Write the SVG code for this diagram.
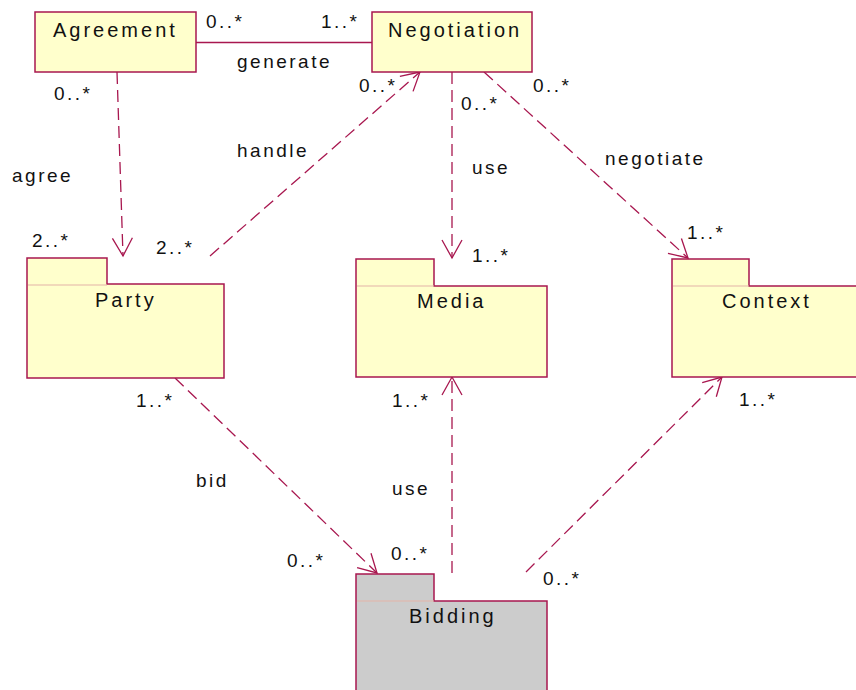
<svg xmlns="http://www.w3.org/2000/svg" width="856" height="690" viewBox="0 0 856 690">
  <style>
    .box { fill: #ffffcc; stroke: #a8174f; stroke-width: 1.5; }
    .grey { fill: #cccccc; }
    .sep { stroke: #e4b4a8; stroke-width: 1.2; fill: none; }
    .name { font-family: "Liberation Sans", Arial, sans-serif; font-size: 20px; letter-spacing: 3px; fill: #111; }
    .lbl { font-family: "Liberation Sans", Arial, sans-serif; font-size: 19px; letter-spacing: 2.5px; fill: #111; }
    .conn { stroke: #a8174f; stroke-width: 1.3; fill: none; }
    .dash { stroke-dasharray: 12 6; }
  </style>
  <defs>
    <marker id="open" markerUnits="userSpaceOnUse" viewBox="-20 -12 22 24" refX="0" refY="0" markerWidth="22" markerHeight="24" orient="auto">
      <path d="M -18 -10 L 0 0 L -18 10" fill="none" stroke="#a8174f" stroke-width="1.3" stroke-dasharray="none"/>
    </marker>
  </defs>

  <rect width="856" height="690" fill="#ffffff"/>

  <!-- connectors -->
  <g id="connectors">
    <line class="conn" x1="196" y1="42.5" x2="372" y2="42.5"/>
    <line class="conn dash" x1="117" y1="72" x2="123" y2="256" marker-end="url(#open)"/>
    <line class="conn dash" x1="210" y1="256" x2="420" y2="72" marker-end="url(#open)"/>
    <line class="conn dash" x1="452" y1="72" x2="452" y2="258" marker-end="url(#open)"/>
    <line class="conn dash" x1="484" y1="72" x2="688" y2="258" marker-end="url(#open)"/>
    <line class="conn dash" x1="175" y1="378" x2="377" y2="573" marker-end="url(#open)"/>
    <line class="conn dash" x1="452" y1="573" x2="452" y2="377" marker-end="url(#open)"/>
    <line class="conn dash" x1="526" y1="572" x2="722" y2="377" marker-end="url(#open)"/>
  </g>

  <!-- classes -->
  <g id="agreement">
    <rect class="box" x="35" y="12" width="161" height="60"/>
    <text class="name" x="53" y="37">Agreement</text>
  </g>
  <g id="negotiation">
    <rect class="box" x="372" y="12" width="160" height="60"/>
    <text class="name" x="388" y="37">Negotiation</text>
  </g>

  <!-- packages -->
  <g id="party">
    <path class="box" d="M27 258 H107 V284 H224 V378 H27 Z"/>
    <line class="sep" x1="28" y1="285" x2="107" y2="285"/>
    <text class="name" x="95" y="307">Party</text>
  </g>
  <g id="media">
    <path class="box" d="M356 259 H434 V286 H547 V377 H356 Z"/>
    <line class="sep" x1="357" y1="286" x2="434" y2="286"/>
    <text class="name" x="417" y="308">Media</text>
  </g>
  <g id="context">
    <path class="box" d="M672 259 H749 V286 H864 V377 H672 Z"/>
    <line class="sep" x1="673" y1="286" x2="749" y2="286"/>
    <text class="name" x="722" y="308">Context</text>
  </g>
  <g id="bidding">
    <path class="box grey" d="M356 574 H434 V601 H547 V700 H356 Z"/>
    <line class="sep" x1="357" y1="601" x2="434" y2="601"/>
    <text class="name" x="409" y="623">Bidding</text>
  </g>

  <!-- association names and multiplicities -->
  <g id="labels">
    <text class="lbl" x="206" y="28">0..*</text>
    <text class="lbl" x="321" y="28">1..*</text>
    <text class="lbl" x="237" y="68">generate</text>
    <text class="lbl" x="54" y="100">0..*</text>
    <text class="lbl" x="359" y="92">0..*</text>
    <text class="lbl" x="461" y="110">0..*</text>
    <text class="lbl" x="533" y="92">0..*</text>
    <text class="lbl" x="12" y="182">agree</text>
    <text class="lbl" x="237" y="157">handle</text>
    <text class="lbl" x="472" y="174">use</text>
    <text class="lbl" x="605" y="165">negotiate</text>
    <text class="lbl" x="32" y="247">2..*</text>
    <text class="lbl" x="156" y="254">2..*</text>
    <text class="lbl" x="472" y="262">1..*</text>
    <text class="lbl" x="687" y="239">1..*</text>
    <text class="lbl" x="136" y="407">1..*</text>
    <text class="lbl" x="392" y="407">1..*</text>
    <text class="lbl" x="739" y="406">1..*</text>
    <text class="lbl" x="196" y="487">bid</text>
    <text class="lbl" x="392" y="495">use</text>
    <text class="lbl" x="287" y="567">0..*</text>
    <text class="lbl" x="391" y="560">0..*</text>
    <text class="lbl" x="543" y="585">0..*</text>
  </g>
</svg>
